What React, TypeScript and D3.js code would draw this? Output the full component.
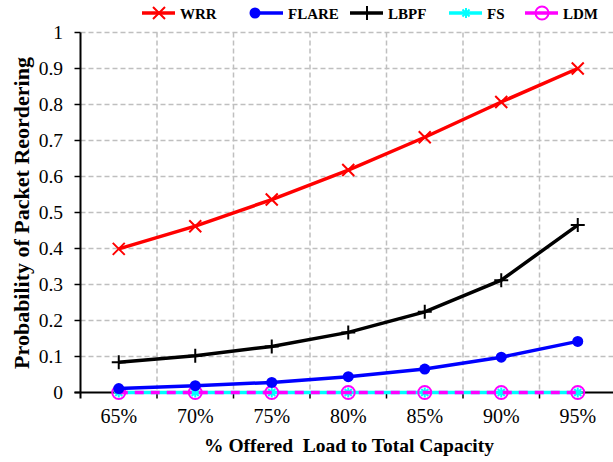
import React from "react";
import * as d3 from "d3";

const categories = ["65%", "70%", "75%", "80%", "85%", "90%", "95%"];
const wrr = [0.399, 0.462, 0.536, 0.618, 0.709, 0.807, 0.9];
const flare = [0.011, 0.019, 0.028, 0.044, 0.065, 0.098, 0.142];
const lbpf = [0.084, 0.102, 0.128, 0.167, 0.224, 0.312, 0.465];
const fs = [0, 0, 0, 0, 0, 0, 0];
const ldm = [0, 0, 0, 0, 0, 0, 0];
const yTicks = [0, 0.1, 0.2, 0.3, 0.4, 0.5, 0.6, 0.7, 0.8, 0.9, 1];
const yTickLabels = ["0", "0.1", "0.2", "0.3", "0.4", "0.5", "0.6", "0.7", "0.8", "0.9", "1"];

const W = 613;
const H = 462;
const fontStyle = { fontFamily: "Liberation Serif, DejaVu Serif, serif" };

type Series = { name: string; values: number[]; color: string; marker: string; dash?: string };
const series: Series[] = [
  { name: "FS", values: fs, color: "#00ffff", marker: "star" },
  { name: "LDM", values: ldm, color: "#ff00ff", marker: "ocircle", dash: "9,7" },
  { name: "FLARE", values: flare, color: "#0000ff", marker: "dot" },
  { name: "LBPF", values: lbpf, color: "#000000", marker: "plus" },
  { name: "WRR", values: wrr, color: "#ff0000", marker: "x" },
];
const legendOrder = ["WRR", "FLARE", "LBPF", "FS", "LDM"];
const legendPos: Record<string, number> = { WRR: 142, FLARE: 250, LBPF: 350, FS: 449, LDM: 525 };

function Marker({ type, x, y, color }: { type: string; x: number; y: number; color: string }) {
  if (type === "x") {
    const s = 6;
    return (
      <path d={`M${x - s},${y - s}L${x + s},${y + s}M${x - s},${y + s}L${x + s},${y - s}`} stroke={color} strokeWidth={2} />
    );
  }
  if (type === "plus") {
    const s = 7;
    return <path d={`M${x - s},${y}L${x + s},${y}M${x},${y - s}L${x},${y + s}`} stroke={color} strokeWidth={2} />;
  }
  if (type === "dot") return <circle cx={x} cy={y} r={5.5} fill={color} />;
  if (type === "ocircle") return <circle cx={x} cy={y} r={6.5} fill="none" stroke={color} strokeWidth={2} />;
  if (type === "star") {
    const s = 5;
    const d = s * 0.707;
    return (
      <path
        d={`M${x - s},${y}L${x + s},${y}M${x},${y - s}L${x},${y + s}M${x - d},${y - d}L${x + d},${y + d}M${x - d},${y + d}L${x + d},${y - d}`}
        stroke={color}
        strokeWidth={2}
      />
    );
  }
  return null;
}

export default function App() {
  const left = 80.5;
  const x = d3.scaleBand<string>().domain(categories).range([left, 616]).padding(0);
  const y = d3.scaleLinear().domain([0, 1]).range([392.5, 32.5]);
  const cx = (c: string) => (x(c) as number) + x.bandwidth() / 2;
  const line = d3
    .line<number>()
    .x((_, i) => cx(categories[i]))
    .y((v) => y(v));
  const bounds = categories.map((c) => (x(c) as number) + x.bandwidth());

  return (
    <svg width={W} height={H} style={{ position: "absolute", left: 0, top: 0, background: "#fff" }}>
      <rect width={W} height={H} fill="#fff" />
      {yTicks.slice(1).map((t) => (
        <line key={"h" + t} x1={left} x2={W + 5} y1={y(t)} y2={y(t)} stroke="#bfbfbf" strokeWidth={1.5} strokeDasharray="5,3" />
      ))}
      {bounds.map((b, i) => (
        <line key={"v" + i} x1={b} x2={b} y1={y(1)} y2={y(0)} stroke="#bfbfbf" strokeWidth={1.5} strokeDasharray="5,3" />
      ))}
      <line x1={left} x2={left} y1={y(1)} y2={y(0) + 6} stroke="#000" strokeWidth={2} />
      <line x1={left - 6} x2={W + 5} y1={y(0)} y2={y(0)} stroke="#000" strokeWidth={2} />
      {yTicks.map((t, i) => (
        <g key={"yt" + t}>
          <line x1={left - 6} x2={left} y1={y(t)} y2={y(t)} stroke="#000" strokeWidth={1.5} />
          <text x={63} y={y(t) + 6.5} textAnchor="end" style={fontStyle} fontSize={19.5}>
            {yTickLabels[i]}
          </text>
        </g>
      ))}
      {bounds.map((b, i) => (
        <line key={"xt" + i} x1={b} x2={b} y1={y(0)} y2={y(0) + 6} stroke="#000" strokeWidth={1.5} />
      ))}
      {categories.map((c) => (
        <text key={"xl" + c} x={cx(c)} y={423} textAnchor="middle" style={fontStyle} fontSize={20}>
          {c}
        </text>
      ))}
      <text x={349} y={452} textAnchor="middle" style={{ ...fontStyle, whiteSpace: "pre" }} fontSize={19.5} fontWeight="bold">
        {"% Offered  Load to Total Capacity"}
      </text>
      <text transform={`translate(29,213) rotate(-90)`} textAnchor="middle" style={fontStyle} fontSize={22} fontWeight="bold">
        Probability of Packet Reordering
      </text>
      {series.map((s) => (
        <g key={s.name}>
          <path d={line(s.values) || ""} fill="none" stroke={s.color} strokeWidth={3.5} strokeDasharray={s.dash} />
          {s.values.map((v, i) => (
            <Marker key={i} type={s.marker} x={cx(categories[i])} y={y(v)} color={s.color} />
          ))}
        </g>
      ))}
      {legendOrder.map((n) => {
        const s = series.find((d) => d.name === n)!;
        const x0 = legendPos[n];
        return (
          <g key={"lg" + n}>
            <line x1={x0} x2={x0 + 33} y1={13} y2={13} stroke={s.color} strokeWidth={3.5} />
            <Marker type={s.marker} x={n === "FLARE" ? x0 + 5 : x0 + 17} y={13} color={s.color} />
            <text x={x0 + 38} y={18.5} style={fontStyle} fontSize={15} fontWeight="bold">
              {n}
            </text>
          </g>
        );
      })}
    </svg>
  );
}
